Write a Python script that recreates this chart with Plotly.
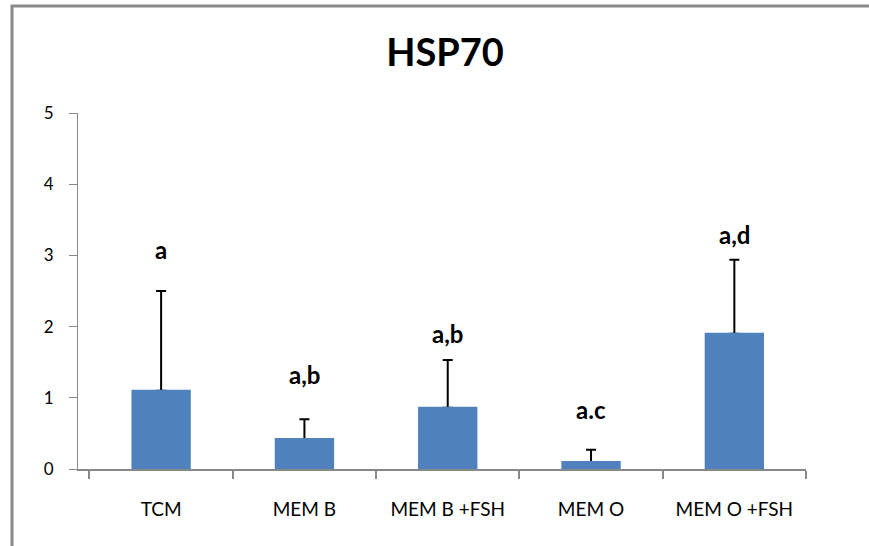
import plotly.graph_objects as go

categories = ["TCM", "MEM B", "MEM B +FSH", "MEM O", "MEM O +FSH"]
means = [1.10, 0.42, 0.86, 0.10, 1.90]
err_plus = [1.40, 0.28, 0.67, 0.17, 1.04]
sig_labels = ["a", "a,b", "a,b", "a.c", "a,d"]
label_y = [3.08, 1.33, 1.91, 0.83, 3.29]
y_ticks = [0, 1, 2, 3, 4, 5]

FONT = "Lato, Calibri, Carlito, 'Open Sans', sans-serif"
BAR = "#4F81BD"
W, H = 869, 546
L, R, T, B = 78, 63, 113, 77

fig = go.Figure()
fig.add_trace(go.Bar(
    x=categories, y=means, width=0.4,
    marker=dict(color=BAR, line=dict(width=0)),
    error_y=dict(type="data", symmetric=False, array=err_plus,
                 arrayminus=[0] * len(means), color="black",
                 thickness=2, width=5),
    showlegend=False, hoverinfo="skip",
))
fig.add_trace(go.Bar(
    x=categories, y=means, width=0.4,
    marker=dict(color=BAR, line=dict(width=2, color=BAR)),
    showlegend=False,
))

for c, lab, ly in zip(categories, sig_labels, label_y):
    fig.add_annotation(x=c, y=ly, text=f"<b>{lab}</b>", showarrow=False,
                       font=dict(family=FONT, size=24, color="black"),
                       yanchor="middle")

pw = W - L - R
ph = H - T - B


def px(x):
    return (x - L) / pw


def py(y):
    return (H - B - y) / ph


# outer frame: left and top edges only, one open path
fig.add_shape(type="path", xref="paper", yref="paper",
              path=f"M {px(12)} {py(550)} L {px(12)} {py(6)} L {px(872)} {py(6)}",
              line=dict(color="#8a8a8a", width=3), fillcolor="rgba(0,0,0,0)")

fig.update_layout(
    width=W, height=H,
    margin=dict(l=L, r=R, t=T, b=B),
    paper_bgcolor="white", plot_bgcolor="white",
    title=dict(text="<b>HSP70</b>", x=445 / W, xanchor="center",
               y=1 - 53 / H, yanchor="middle",
               font=dict(family=FONT, size=38, color="black")),
    font=dict(family=FONT, color="black"),
    barmode="overlay",
)
fig.update_xaxes(
    type="category", range=[-0.58, 4.5],
    showline=True, linecolor="#888888", linewidth=2,
    ticks="outside", tickson="boundaries", ticklen=8, tickcolor="#888888",
    tickwidth=1.5, showgrid=False, zeroline=False,
    tickfont=dict(family=FONT, size=19, color="black"),
    ticklabelstandoff=22,
)
fig.update_yaxes(
    range=[0, 5], tickvals=y_ticks,
    showline=True, linecolor="#888888", linewidth=1,
    ticks="outside", ticklen=8, tickcolor="#888888",
    showgrid=False, zeroline=False,
    tickfont=dict(family=FONT, size=17, color="black"),
    ticklabelstandoff=12,
)

fig.write_html("out.html")
